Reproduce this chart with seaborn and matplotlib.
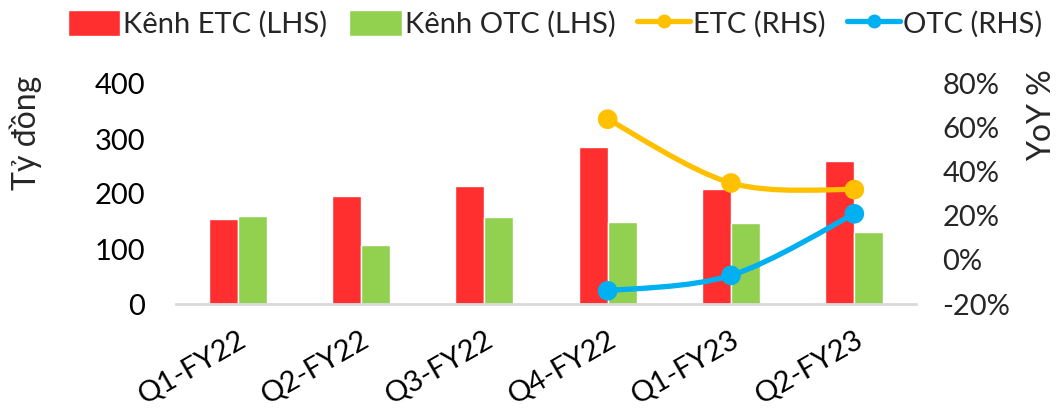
import numpy as np
import pandas as pd
import matplotlib
matplotlib.use("Agg")
import matplotlib.pyplot as plt
from matplotlib.path import Path
from matplotlib.patches import PathPatch, Patch
from matplotlib.lines import Line2D
from matplotlib.ticker import FuncFormatter
import seaborn as sns

# data
quarters = ["Q1-FY22", "Q2-FY22", "Q3-FY22", "Q4-FY22", "Q1-FY23", "Q2-FY23"]
etc_channel = [155, 197, 214, 285, 209, 260]
otc_channel = [160, 107, 158, 149, 148, 131]
yoy_quarters = ["Q4-FY22", "Q1-FY23", "Q2-FY23"]
etc_yoy = [64, 35, 32]
otc_yoy = [-14, -7, 21]

RED = "#FF2F2F"
GREEN = "#92D050"
YELLOW = "#FFC000"
BLUE = "#00B0F0"
FS = 21

sns.set_style("white")
plt.rcParams["font.family"] = ["Lato", "DejaVu Sans"]

df = pd.DataFrame({
    "Quarter": quarters * 2,
    "Series": ["Kênh ETC (LHS)"] * 6 + ["Kênh OTC (LHS)"] * 6,
    "Value": etc_channel + otc_channel,
})

fig = plt.figure(figsize=(10.61, 4.11), dpi=100)
ax = fig.add_axes([176 / 1061, 1 - 304 / 411, 740 / 1061, 220 / 411])

sns.barplot(data=df, x="Quarter", y="Value", hue="Series", order=quarters,
            palette=[RED, GREEN], width=0.47, gap=0, ax=ax, legend=False,
            saturation=1)
ax.set_xlim(-0.5, 5.5)
ax.set_ylim(0, 400)
ax.set_yticks([0, 100, 200, 300, 400])
ax.set_xlabel("")
ax.set_ylabel("Tỷ đồng", fontsize=23)
ax.yaxis.set_label_coords(-0.181, 0.78)
for s in ["top", "right", "left"]:
    ax.spines[s].set_visible(False)
ax.spines["bottom"].set_color("#D9D9D9")
ax.spines["bottom"].set_linewidth(2)
ax.tick_params(axis="both", length=0, labelsize=FS, colors="black")
ax.tick_params(axis="y", pad=22)
for lbl in ax.get_xticklabels():
    lbl.set_rotation(30)
    lbl.set_ha("right")
    lbl.set_rotation_mode("anchor")
ax.tick_params(axis="x", pad=16)

ax2 = ax.twinx()
ax2.set_ylim(-20, 80)
ax2.set_yticks([-20, 0, 20, 40, 60, 80])
ax2.yaxis.set_major_formatter(FuncFormatter(lambda v, p: f"{v:.0f}%"))
ax2.tick_params(axis="y", length=0, labelsize=FS, pad=19)
for s in ax2.spines.values():
    s.set_visible(False)
ax2.set_ylabel("YoY %", fontsize=23)
ax2.yaxis.set_label_coords(1.15, 0.86)


def smooth_path(xs, ys):
    pts = np.column_stack([xs, ys]).astype(float)
    n = len(pts)
    verts = [pts[0]]
    codes = [Path.MOVETO]
    for i in range(n - 1):
        p0 = pts[max(i - 1, 0)]
        p1 = pts[i]
        p2 = pts[i + 1]
        p3 = pts[min(i + 2, n - 1)]
        verts += [p1 + (p2 - p0) / 6, p2 - (p3 - p1) / 6, p2]
        codes += [Path.CURVE4] * 3
    return Path(verts, codes)


xpos = [quarters.index(q) for q in yoy_quarters]
for vals, col in [(etc_yoy, YELLOW), (otc_yoy, BLUE)]:
    ax2.add_patch(PathPatch(smooth_path(xpos, vals), facecolor="none",
                            edgecolor=col, lw=3.8, capstyle="round", zorder=3))
    sns.scatterplot(x=xpos, y=vals, color=col, s=200, edgecolor="none",
                    ax=ax2, zorder=4)

handles = [
    Patch(facecolor=RED, label="Kênh ETC (LHS)"),
    Patch(facecolor=GREEN, label="Kênh OTC (LHS)"),
    Line2D([], [], color=YELLOW, lw=3.8, marker="o", markersize=9, label="ETC (RHS)"),
    Line2D([], [], color=BLUE, lw=3.8, marker="o", markersize=9, label="OTC (RHS)"),
]
fig.legend(handles=handles, loc="upper center", bbox_to_anchor=(0.523, 1.04),
           ncol=4, frameon=False, fontsize=FS, handlelength=1.8,
           handleheight=1.0, handletextpad=0.1, columnspacing=0.75)

fig.savefig("out.png", dpi=100)
